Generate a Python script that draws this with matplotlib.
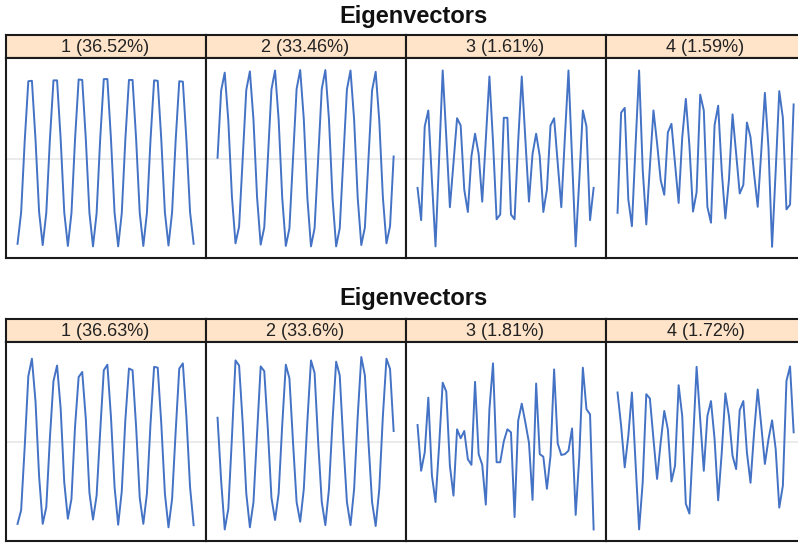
import numpy as np
import matplotlib
matplotlib.use('Agg')
import matplotlib.pyplot as plt

plt.rcParams['font.family'] = ['Liberation Sans', 'DejaVu Sans']

W, H = 798, 543

# panel titles
labels_top = ['1 (36.52%)', '2 (33.46%)', '3 (1.61%)', '4 (1.59%)']
labels_bottom = ['1 (36.63%)', '2 (33.6%)', '3 (1.81%)', '4 (1.72%)']

# eigenvectors, first decomposition (window length 50)
ev1_top = [-0.198, -0.125, 0.042, 0.180, 0.181, 0.044, -0.124,
           -0.201, -0.126, 0.044, 0.182, 0.182, 0.045, -0.125,
           -0.203, -0.127, 0.045, 0.184, 0.183, 0.045, -0.126,
           -0.204, -0.127, 0.046, 0.185, 0.185, 0.045, -0.126,
           -0.204, -0.127, 0.045, 0.183, 0.183, 0.045, -0.126,
           -0.203, -0.126, 0.044, 0.182, 0.181, 0.044, -0.125,
           -0.202, -0.125, 0.043, 0.180, 0.179, 0.042, -0.124, -0.198]
ev2_top = [0.002, 0.158, 0.200, 0.088, -0.088, -0.197, -0.158,
           0.000, 0.160, 0.203, 0.090, -0.090, -0.200, -0.160,
           0.000, 0.161, 0.205, 0.091, -0.091, -0.203, -0.162,
           0.000, 0.162, 0.206, 0.092, -0.092, -0.204, -0.162,
           0.000, 0.162, 0.206, 0.092, -0.092, -0.204, -0.162,
           0.000, 0.161, 0.205, 0.091, -0.091, -0.201, -0.160,
           0.000, 0.159, 0.202, 0.089, -0.089, -0.197, -0.157, 0.005]
ev3_top = [-0.068, -0.143, 0.075, 0.112, -0.050, -0.204, 0.000, 0.205, 0.050, -0.113,
           -0.010, 0.094, 0.077, -0.072, -0.124, 0.006, 0.058, 0.011, -0.100, 0.045,
           0.191, 0.040, -0.141, -0.130, 0.095, 0.095, -0.130, -0.141, 0.040, 0.191,
           0.045, -0.100, 0.011, 0.058, 0.006, -0.124, -0.072, 0.077, 0.094, -0.010,
           -0.113, 0.050, 0.205, 0.000, -0.204, -0.050, 0.112, 0.075, -0.143, -0.068]
ev4_top = [-0.126, 0.107, 0.118, -0.095, -0.157, 0.029, 0.205, -0.025, -0.153, -0.018,
           0.112, 0.036, -0.050, -0.084, 0.061, 0.081, -0.012, -0.103, 0.049, 0.139,
           0.030, -0.123, -0.078, 0.149, 0.112, -0.112, -0.149, 0.078, 0.123, -0.030,
           -0.139, -0.049, 0.103, 0.012, -0.081, -0.061, 0.084, 0.050, -0.036, -0.112,
           0.018, 0.153, 0.025, -0.205, -0.029, 0.157, 0.095, -0.118, -0.107, 0.126]

# eigenvectors, second decomposition
ev1_bottom = [-0.191, -0.159, -0.010, 0.154, 0.195, 0.095, -0.080,
              -0.191, -0.152, 0.009, 0.143, 0.179, 0.078, -0.094,
              -0.179, -0.133, 0.036, 0.152, 0.164, 0.054, -0.118,
              -0.181, -0.125, 0.025, 0.168, 0.181, 0.058, -0.105,
              -0.193, -0.115, 0.052, 0.172, 0.168, 0.035, -0.130,
              -0.191, -0.120, 0.043, 0.176, 0.174, 0.043, -0.120,
              -0.199, -0.133, 0.025, 0.172, 0.184, 0.058, -0.105, -0.194]
ev2_bottom = [0.057, -0.090, -0.204, -0.156, 0.010, 0.191, 0.179,
              0.045, -0.120, -0.199, -0.140, 0.020, 0.177, 0.166,
              0.030, -0.130, -0.182, -0.120, 0.040, 0.181, 0.149,
              0.000, -0.140, -0.186, -0.110, 0.050, 0.191, 0.162,
              0.000, -0.140, -0.194, -0.110, 0.050, 0.188, 0.156,
              0.000, -0.140, -0.194, -0.110, 0.060, 0.199, 0.156,
              0.000, -0.140, -0.196, -0.110, 0.060, 0.195, 0.171, 0.026]
ev3_bottom = [0.040, -0.067, -0.024, 0.104, -0.078, -0.140, -0.009, 0.139, 0.118, -0.055,
              -0.125, 0.030, 0.009, 0.026, -0.040, -0.053, 0.141, -0.028, -0.053, -0.146,
              0.077, 0.184, -0.047, -0.047, 0.002, 0.030, 0.023, -0.175, 0.050, 0.090,
              0.046, -0.001, -0.135, 0.137, -0.028, -0.034, -0.109, -0.032, 0.170, -0.003,
              -0.030, -0.028, -0.020, 0.032, -0.170, -0.036, 0.174, 0.077, 0.065, -0.204]
ev4_bottom = [0.116, 0.038, -0.059, 0.015, 0.116, -0.047, -0.204, -0.094, 0.112, 0.102,
              0.007, -0.086, -0.001, 0.073, 0.030, -0.092, -0.055, 0.133, 0.061, -0.144,
              -0.167, -0.001, 0.176, 0.053, -0.067, 0.061, 0.096, 0.007, -0.136, -0.024,
              0.114, 0.061, -0.032, -0.063, 0.075, 0.096, -0.024, -0.095, 0.023, 0.123,
              0.038, -0.051, 0.007, 0.051, -0.016, -0.153, -0.102, 0.143, 0.177, 0.023]

rows = [
    {'labels': labels_top, 'series': [ev1_top, ev2_top, ev3_top, ev4_top],
     'title_y': 16, 'strip': (35, 58), 'plot': (58, 258)},
    {'labels': labels_bottom, 'series': [ev1_bottom, ev2_bottom, ev3_bottom, ev4_bottom],
     'title_y': 298, 'strip': (319, 342), 'plot': (342, 541)},
]

line_color = '#4472c4'
border = '#1a1a1a'
strip_color = '#ffe4c9'


def rect(x0, y0, x1, y1):
    # pixel box (top-left origin) -> figure fraction
    return [x0 / W, 1 - y1 / H, (x1 - x0) / W, (y1 - y0) / H]


fig = plt.figure(figsize=(W / 100, H / 100), dpi=100)

panel_left = 5.5
panel_w = 200.0

for row in rows:
    fig.text(413.5 / W, 1 - row['title_y'] / H, 'Eigenvectors',
             ha='center', va='center', fontsize=17, fontweight='bold', color='#111111')
    for i in range(4):
        x0 = panel_left + i * panel_w
        x1 = x0 + panel_w

        # strip header
        sax = fig.add_axes(rect(x0, row['strip'][0], x1, row['strip'][1]))
        sax.set_facecolor(strip_color)
        sax.set_xticks([])
        sax.set_yticks([])
        for sp in sax.spines.values():
            sp.set_color(border)
            sp.set_linewidth(1.5)
        sax.text(0.5, 0.47, row['labels'][i], transform=sax.transAxes,
                 ha='center', va='center', fontsize=13, color='#222222')

        # panel
        ax = fig.add_axes(rect(x0, row['plot'][0], x1, row['plot'][1]))
        y = np.array(row['series'][i])
        ax.axhline(0, color='#e8e8e8', lw=1.2, zorder=1)
        ax.plot(np.arange(len(y)), y, color=line_color, lw=1.4, zorder=2)
        ax.set_xlim(-3.35, 52.3)
        ax.set_ylim(-0.231, 0.234)
        ax.set_xticks([])
        ax.set_yticks([])
        for sp in ax.spines.values():
            sp.set_color(border)
            sp.set_linewidth(1.5)

fig.savefig('out.png', dpi=100)
